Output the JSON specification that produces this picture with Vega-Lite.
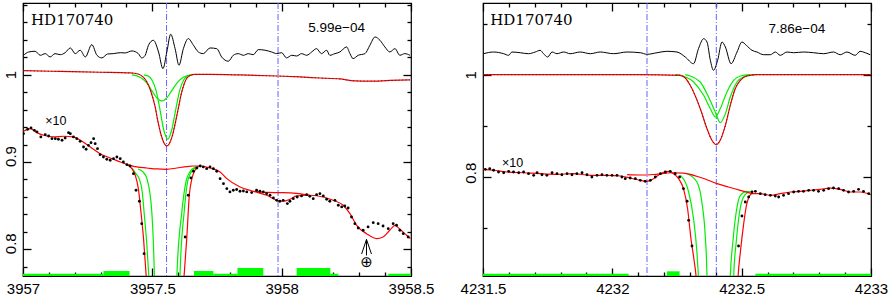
{
"$schema": "https://vega.github.io/schema/vega-lite/v6.json",
"background": "white",
"padding": {"left": 2, "top": 1, "right": 0, "bottom": 0},
"bounds": "flush",
"spacing": 72,
"config": {
  "view": {"stroke": "black", "strokeWidth": 1.2},
  "axis": {"labelFont": "Liberation Sans", "labelFontSize": 15, "labelColor": "black", "tickColor": "black", "tickWidth": 1.3, "domain": false, "grid": false, "labelPadding": 5, "labelOverlap": false, "labelBound": false, "labelFlush": false, "title": null}
},
"datasets": {
"L": [
{"s":"res","x":3957.002,"y":1.0222},{"s":"res","x":3957.022,"y":1.0260},{"s":"res","x":3957.047,"y":1.0268},{"s":"res","x":3957.067,"y":1.0222},{"s":"res","x":3957.086,"y":1.0241},{"s":"res","x":3957.105,"y":1.0203},{"s":"res","x":3957.124,"y":1.0241},{"s":"res","x":3957.144,"y":1.0229},{"s":"res","x":3957.163,"y":1.0252},{"s":"res","x":3957.183,"y":1.0306},{"s":"res","x":3957.202,"y":1.0241},{"s":"res","x":3957.221,"y":1.0280},{"s":"res","x":3957.241,"y":1.0203},{"s":"res","x":3957.266,"y":1.0344},{"s":"res","x":3957.286,"y":1.0222},{"s":"res","x":3957.305,"y":1.0192},{"s":"res","x":3957.327,"y":1.0237},{"s":"res","x":3957.350,"y":1.0241},{"s":"res","x":3957.376,"y":1.0252},{"s":"res","x":3957.395,"y":1.0249},{"s":"res","x":3957.421,"y":1.0272},{"s":"res","x":3957.446,"y":1.0241},{"s":"res","x":3957.459,"y":1.0192},{"s":"res","x":3957.472,"y":1.0220},{"s":"res","x":3957.485,"y":1.0337},{"s":"res","x":3957.504,"y":1.0394},{"s":"res","x":3957.524,"y":1.0260},{"s":"res","x":3957.541,"y":1.0069},{"s":"res","x":3957.556,"y":1.0260},{"s":"res","x":3957.571,"y":1.0463},{"s":"res","x":3957.588,"y":1.0298},{"s":"res","x":3957.603,"y":1.0108},{"s":"res","x":3957.620,"y":1.0298},{"s":"res","x":3957.639,"y":1.0413},{"s":"res","x":3957.659,"y":1.0337},{"s":"res","x":3957.678,"y":1.0260},{"s":"res","x":3957.697,"y":1.0241},{"s":"res","x":3957.723,"y":1.0306},{"s":"res","x":3957.749,"y":1.0298},{"s":"res","x":3957.768,"y":1.0203},{"s":"res","x":3957.794,"y":1.0154},{"s":"res","x":3957.813,"y":1.0222},{"s":"res","x":3957.832,"y":1.0241},{"s":"res","x":3957.852,"y":1.0222},{"s":"res","x":3957.871,"y":1.0241},{"s":"res","x":3957.890,"y":1.0229},{"s":"res","x":3957.910,"y":1.0287},{"s":"res","x":3957.936,"y":1.0280},{"s":"res","x":3957.961,"y":1.0260},{"s":"res","x":3957.981,"y":1.0241},{"s":"res","x":3958.000,"y":1.0252},{"s":"res","x":3958.019,"y":1.0192},{"s":"res","x":3958.039,"y":1.0222},{"s":"res","x":3958.058,"y":1.0214},{"s":"res","x":3958.077,"y":1.0241},{"s":"res","x":3958.097,"y":1.0222},{"s":"res","x":3958.116,"y":1.0260},{"s":"res","x":3958.135,"y":1.0298},{"s":"res","x":3958.154,"y":1.0241},{"s":"res","x":3958.174,"y":1.0280},{"s":"res","x":3958.186,"y":1.0222},{"s":"res","x":3958.206,"y":1.0241},{"s":"res","x":3958.225,"y":1.0260},{"s":"res","x":3958.251,"y":1.0318},{"s":"res","x":3958.264,"y":1.0241},{"s":"res","x":3958.276,"y":1.0184},{"s":"res","x":3958.296,"y":1.0222},{"s":"res","x":3958.322,"y":1.0241},{"s":"res","x":3958.341,"y":1.0337},{"s":"res","x":3958.361,"y":1.0432},{"s":"res","x":3958.380,"y":1.0394},{"s":"res","x":3958.399,"y":1.0318},{"s":"res","x":3958.418,"y":1.0260},{"s":"res","x":3958.438,"y":1.0298},{"s":"res","x":3958.457,"y":1.0222},{"s":"res","x":3958.476,"y":1.0241},{"s":"res","x":3958.496,"y":1.0222},
{"s":"m1","x":3957.001,"y":1.0046},{"s":"m1","x":3957.144,"y":1.0037},{"s":"m1","x":3957.298,"y":1.0028},{"s":"m1","x":3957.414,"y":1.0020},{"s":"m1","x":3957.445,"y":1.0008},{"s":"m1","x":3957.464,"y":0.9974},{"s":"m1","x":3957.479,"y":0.9917},{"s":"m1","x":3957.495,"y":0.9802},{"s":"m1","x":3957.511,"y":0.9630},{"s":"m1","x":3957.522,"y":0.9458},{"s":"m1","x":3957.534,"y":0.9309},{"s":"m1","x":3957.545,"y":0.9218},{"s":"m1","x":3957.556,"y":0.9184},{"s":"m1","x":3957.565,"y":0.9206},{"s":"m1","x":3957.576,"y":0.9287},{"s":"m1","x":3957.588,"y":0.9435},{"s":"m1","x":3957.600,"y":0.9607},{"s":"m1","x":3957.611,"y":0.9768},{"s":"m1","x":3957.623,"y":0.9894},{"s":"m1","x":3957.634,"y":0.9962},{"s":"m1","x":3957.646,"y":0.9991},{"s":"m1","x":3957.665,"y":1.0003},{"s":"m1","x":3957.723,"y":1.0003},{"s":"m1","x":3957.839,"y":0.9997},{"s":"m1","x":3957.981,"y":0.9985},{"s":"m1","x":3958.071,"y":0.9974},{"s":"m1","x":3958.148,"y":0.9962},{"s":"m1","x":3958.225,"y":0.9951},{"s":"m1","x":3958.283,"y":0.9928},{"s":"m1","x":3958.341,"y":0.9925},{"s":"m1","x":3958.418,"y":0.9934},{"s":"m1","x":3958.496,"y":0.9940},
{"s":"g1","x":3957.421,"y":0.9997},{"s":"g1","x":3957.440,"y":0.9986},{"s":"g1","x":3957.459,"y":0.9959},{"s":"g1","x":3957.479,"y":0.9903},{"s":"g1","x":3957.498,"y":0.9817},{"s":"g1","x":3957.517,"y":0.9735},{"s":"g1","x":3957.537,"y":0.9699},{"s":"g1","x":3957.556,"y":0.9735},{"s":"g1","x":3957.575,"y":0.9817},{"s":"g1","x":3957.595,"y":0.9903},{"s":"g1","x":3957.614,"y":0.9959},{"s":"g1","x":3957.633,"y":0.9986},{"s":"g1","x":3957.653,"y":0.9997},
{"s":"g2","x":3957.467,"y":0.9998},{"s":"g2","x":3957.483,"y":0.9986},{"s":"g2","x":3957.498,"y":0.9942},{"s":"g2","x":3957.514,"y":0.9823},{"s":"g2","x":3957.529,"y":0.9609},{"s":"g2","x":3957.544,"y":0.9369},{"s":"g2","x":3957.560,"y":0.9260},{"s":"g2","x":3957.575,"y":0.9369},{"s":"g2","x":3957.591,"y":0.9609},{"s":"g2","x":3957.606,"y":0.9823},{"s":"g2","x":3957.622,"y":0.9942},{"s":"g2","x":3957.637,"y":0.9986},{"s":"g2","x":3957.653,"y":0.9998},
{"s":"m10","x":3957.002,"y":0.9352},{"s":"m10","x":3957.028,"y":0.9382},{"s":"m10","x":3957.054,"y":0.9336},{"s":"m10","x":3957.080,"y":0.9306},{"s":"m10","x":3957.118,"y":0.9287},{"s":"m10","x":3957.157,"y":0.9295},{"s":"m10","x":3957.195,"y":0.9287},{"s":"m10","x":3957.228,"y":0.9237},{"s":"m10","x":3957.260,"y":0.9172},{"s":"m10","x":3957.298,"y":0.9095},{"s":"m10","x":3957.337,"y":0.9046},{"s":"m10","x":3957.376,"y":0.9000},{"s":"m10","x":3957.402,"y":0.8969},{"s":"m10","x":3957.421,"y":0.8923},{"s":"m10","x":3957.434,"y":0.8848},{"s":"m10","x":3957.446,"y":0.8694},{"s":"m10","x":3957.456,"y":0.8427},{"s":"m10","x":3957.466,"y":0.8122},{"s":"m10","x":3957.476,"y":0.7706},{"s":"m10","x":3957.480,"y":0.7511},{"s":"m10","x":3957.619,"y":0.7511},{"s":"m10","x":3957.623,"y":0.7706},{"s":"m10","x":3957.633,"y":0.8122},{"s":"m10","x":3957.643,"y":0.8619},{"s":"m10","x":3957.653,"y":0.8809},{"s":"m10","x":3957.665,"y":0.8905},{"s":"m10","x":3957.685,"y":0.8954},{"s":"m10","x":3957.723,"y":0.8931},{"s":"m10","x":3957.762,"y":0.8886},{"s":"m10","x":3957.788,"y":0.8809},{"s":"m10","x":3957.839,"y":0.8714},{"s":"m10","x":3957.890,"y":0.8665},{"s":"m10","x":3957.942,"y":0.8619},{"s":"m10","x":3957.981,"y":0.8561},{"s":"m10","x":3958.006,"y":0.8550},{"s":"m10","x":3958.032,"y":0.8573},{"s":"m10","x":3958.058,"y":0.8611},{"s":"m10","x":3958.109,"y":0.8619},{"s":"m10","x":3958.161,"y":0.8599},{"s":"m10","x":3958.199,"y":0.8561},{"s":"m10","x":3958.238,"y":0.8504},{"s":"m10","x":3958.264,"y":0.8408},{"s":"m10","x":3958.290,"y":0.8275},{"s":"m10","x":3958.328,"y":0.8179},{"s":"m10","x":3958.367,"y":0.8122},{"s":"m10","x":3958.392,"y":0.8141},{"s":"m10","x":3958.418,"y":0.8218},{"s":"m10","x":3958.438,"y":0.8275},{"s":"m10","x":3958.457,"y":0.8229},{"s":"m10","x":3958.483,"y":0.8161},{"s":"m10","x":3958.498,"y":0.8122},
{"s":"c1","x":3957.402,"y":0.8969},{"s":"c1","x":3957.440,"y":0.8943},{"s":"c1","x":3957.479,"y":0.8931},{"s":"c1","x":3957.517,"y":0.8920},{"s":"c1","x":3957.556,"y":0.8916},{"s":"c1","x":3957.595,"y":0.8931},{"s":"c1","x":3957.633,"y":0.8946},{"s":"c1","x":3957.659,"y":0.8954},{"s":"c1","x":3957.685,"y":0.8954},
{"s":"c2","x":3957.890,"y":0.8665},{"s":"c2","x":3957.942,"y":0.8651},{"s":"c2","x":3958.006,"y":0.8649},{"s":"c2","x":3958.058,"y":0.8640},{"s":"c2","x":3958.109,"y":0.8619},
{"s":"g3","x":3957.421,"y":0.8932},{"s":"g3","x":3957.437,"y":0.8863},{"s":"g3","x":3957.449,"y":0.8809},{"s":"g3","x":3957.461,"y":0.8657},{"s":"g3","x":3957.468,"y":0.8427},{"s":"g3","x":3957.478,"y":0.8084},{"s":"g3","x":3957.486,"y":0.7706},{"s":"g3","x":3957.490,"y":0.7511},{"s":"g3","x":3957.605,"y":0.7511},{"s":"g3","x":3957.607,"y":0.7706},{"s":"g3","x":3957.623,"y":0.8427},{"s":"g3","x":3957.639,"y":0.8809},{"s":"g3","x":3957.659,"y":0.8917},{"s":"g3","x":3957.677,"y":0.8943},
{"s":"g4","x":3957.445,"y":0.8920},{"s":"g4","x":3957.464,"y":0.8886},{"s":"g4","x":3957.479,"y":0.8809},{"s":"g4","x":3957.490,"y":0.8657},{"s":"g4","x":3957.498,"y":0.8427},{"s":"g4","x":3957.504,"y":0.8084},{"s":"g4","x":3957.508,"y":0.7706},{"s":"g4","x":3957.510,"y":0.7511},{"s":"g4","x":3957.593,"y":0.7511},{"s":"g4","x":3957.595,"y":0.7706},{"s":"g4","x":3957.614,"y":0.8427},{"s":"g4","x":3957.633,"y":0.8809},{"s":"g4","x":3957.653,"y":0.8917},{"s":"g4","x":3957.669,"y":0.8943}
],
"Ld": [
{"x":3957.002,"y":0.9324},{"x":3957.018,"y":0.9375},{"x":3957.031,"y":0.9390},{"x":3957.044,"y":0.9363},{"x":3957.054,"y":0.9344},{"x":3957.069,"y":0.9287},{"x":3957.086,"y":0.9313},{"x":3957.099,"y":0.9298},{"x":3957.112,"y":0.9267},{"x":3957.125,"y":0.9267},{"x":3957.137,"y":0.9260},{"x":3957.151,"y":0.9249},{"x":3957.163,"y":0.9275},{"x":3957.176,"y":0.9336},{"x":3957.183,"y":0.9324},{"x":3957.195,"y":0.9287},{"x":3957.208,"y":0.9267},{"x":3957.221,"y":0.9237},{"x":3957.234,"y":0.9172},{"x":3957.244,"y":0.9146},{"x":3957.253,"y":0.9191},{"x":3957.263,"y":0.9221},{"x":3957.273,"y":0.9267},{"x":3957.279,"y":0.9210},{"x":3957.288,"y":0.9152},{"x":3957.298,"y":0.9084},{"x":3957.311,"y":0.9057},{"x":3957.324,"y":0.9031},{"x":3957.337,"y":0.9020},{"x":3957.350,"y":0.9038},{"x":3957.363,"y":0.9057},{"x":3957.376,"y":0.9038},{"x":3957.388,"y":0.9000},{"x":3957.402,"y":0.8969},{"x":3957.414,"y":0.8954},{"x":3957.427,"y":0.8866},{"x":3957.437,"y":0.8676},{"x":3957.450,"y":0.8550},{"x":3957.459,"y":0.8293},{"x":3957.468,"y":0.7950},
{"x":3957.627,"y":0.8141},{"x":3957.639,"y":0.8619},{"x":3957.649,"y":0.8817},{"x":3957.659,"y":0.8894},{"x":3957.672,"y":0.8931},{"x":3957.685,"y":0.8954},{"x":3957.697,"y":0.8943},{"x":3957.710,"y":0.8923},{"x":3957.723,"y":0.8943},{"x":3957.736,"y":0.8923},{"x":3957.749,"y":0.8894},{"x":3957.762,"y":0.8809},{"x":3957.775,"y":0.8752},{"x":3957.788,"y":0.8694},{"x":3957.800,"y":0.8657},{"x":3957.813,"y":0.8676},{"x":3957.826,"y":0.8685},{"x":3957.839,"y":0.8665},{"x":3957.852,"y":0.8668},{"x":3957.865,"y":0.8657},{"x":3957.884,"y":0.8649},{"x":3957.903,"y":0.8676},{"x":3957.916,"y":0.8665},{"x":3957.929,"y":0.8657},{"x":3957.942,"y":0.8637},{"x":3957.955,"y":0.8619},{"x":3957.968,"y":0.8588},{"x":3957.981,"y":0.8561},{"x":3957.993,"y":0.8550},{"x":3958.006,"y":0.8561},{"x":3958.022,"y":0.8523},{"x":3958.032,"y":0.8550},{"x":3958.045,"y":0.8580},{"x":3958.060,"y":0.8599},{"x":3958.077,"y":0.8611},{"x":3958.097,"y":0.8626},{"x":3958.109,"y":0.8607},{"x":3958.122,"y":0.8580},{"x":3958.135,"y":0.8626},{"x":3958.148,"y":0.8637},{"x":3958.161,"y":0.8611},{"x":3958.174,"y":0.8573},{"x":3958.186,"y":0.8550},{"x":3958.206,"y":0.8561},{"x":3958.219,"y":0.8504},{"x":3958.232,"y":0.8485},{"x":3958.244,"y":0.8496},{"x":3958.257,"y":0.8473},{"x":3958.270,"y":0.8370},{"x":3958.283,"y":0.8293},{"x":3958.296,"y":0.8244},{"x":3958.315,"y":0.8218},{"x":3958.334,"y":0.8256},{"x":3958.354,"y":0.8305},{"x":3958.373,"y":0.8293},{"x":3958.392,"y":0.8267},{"x":3958.412,"y":0.8236},{"x":3958.431,"y":0.8293},{"x":3958.444,"y":0.8275},{"x":3958.457,"y":0.8218},{"x":3958.470,"y":0.8179},{"x":3958.489,"y":0.8141}
],
"Lb": [
{"x":3957.0,"x2":3957.311,"y":0.7720},{"x":3957.311,"x2":3957.412,"y":0.7751},{"x":3957.661,"x2":3957.736,"y":0.7751},{"x":3957.736,"x2":3957.829,"y":0.7720},{"x":3957.829,"x2":3957.929,"y":0.7786},{"x":3958.058,"x2":3958.188,"y":0.7786},{"x":3958.188,"x2":3958.219,"y":0.7720},{"x":3958.412,"x2":3958.5,"y":0.7720}
],
"Lv": [{"x":3957.555},{"x":3957.986}],
"R": [
{"s":"res","x":4231.502,"y":1.0412},{"s":"res","x":4231.541,"y":1.0445},{"s":"res","x":4231.580,"y":1.0412},{"s":"res","x":4231.599,"y":1.0380},{"s":"res","x":4231.612,"y":1.0445},{"s":"res","x":4231.644,"y":1.0431},{"s":"res","x":4231.676,"y":1.0412},{"s":"res","x":4231.702,"y":1.0445},{"s":"res","x":4231.721,"y":1.0478},{"s":"res","x":4231.734,"y":1.0412},{"s":"res","x":4231.750,"y":1.0347},{"s":"res","x":4231.767,"y":1.0445},{"s":"res","x":4231.786,"y":1.0412},{"s":"res","x":4231.812,"y":1.0445},{"s":"res","x":4231.837,"y":1.0412},{"s":"res","x":4231.876,"y":1.0445},{"s":"res","x":4231.915,"y":1.0412},{"s":"res","x":4231.953,"y":1.0445},{"s":"res","x":4232.005,"y":1.0412},{"s":"res","x":4232.057,"y":1.0445},{"s":"res","x":4232.108,"y":1.0431},{"s":"res","x":4232.134,"y":1.0400},{"s":"res","x":4232.173,"y":1.0431},{"s":"res","x":4232.211,"y":1.0459},{"s":"res","x":4232.250,"y":1.0445},{"s":"res","x":4232.282,"y":1.0347},{"s":"res","x":4232.314,"y":1.0216},{"s":"res","x":4232.333,"y":1.0510},{"s":"res","x":4232.353,"y":1.0706},{"s":"res","x":4232.366,"y":1.0641},{"s":"res","x":4232.379,"y":1.0282},{"s":"res","x":4232.391,"y":1.0086},{"s":"res","x":4232.407,"y":1.0282},{"s":"res","x":4232.424,"y":1.0641},{"s":"res","x":4232.437,"y":1.0543},{"s":"res","x":4232.459,"y":1.0216},{"s":"res","x":4232.482,"y":1.0445},{"s":"res","x":4232.501,"y":1.0641},{"s":"res","x":4232.518,"y":1.0576},{"s":"res","x":4232.540,"y":1.0478},{"s":"res","x":4232.559,"y":1.0445},{"s":"res","x":4232.585,"y":1.0392},{"s":"res","x":4232.611,"y":1.0392},{"s":"res","x":4232.630,"y":1.0445},{"s":"res","x":4232.649,"y":1.0380},{"s":"res","x":4232.675,"y":1.0445},{"s":"res","x":4232.701,"y":1.0431},{"s":"res","x":4232.739,"y":1.0445},{"s":"res","x":4232.778,"y":1.0431},{"s":"res","x":4232.817,"y":1.0412},{"s":"res","x":4232.855,"y":1.0445},{"s":"res","x":4232.881,"y":1.0392},{"s":"res","x":4232.907,"y":1.0445},{"s":"res","x":4232.939,"y":1.0380},{"s":"res","x":4232.958,"y":1.0459},{"s":"res","x":4232.978,"y":1.0431},{"s":"res","x":4232.997,"y":1.0392},
{"s":"m1","x":4231.501,"y":1.0},{"s":"m1","x":4231.8,"y":1.0},{"s":"m1","x":4232.1,"y":1.0},{"s":"m1","x":4232.263,"y":0.9988},{"s":"m1","x":4232.282,"y":0.9935},{"s":"m1","x":4232.301,"y":0.9792},{"s":"m1","x":4232.340,"y":0.9333},{"s":"m1","x":4232.366,"y":0.8941},{"s":"m1","x":4232.385,"y":0.8714},{"s":"m1","x":4232.402,"y":0.8627},{"s":"m1","x":4232.417,"y":0.8714},{"s":"m1","x":4232.437,"y":0.9008},{"s":"m1","x":4232.456,"y":0.9400},{"s":"m1","x":4232.475,"y":0.9726},{"s":"m1","x":4232.495,"y":0.9890},{"s":"m1","x":4232.520,"y":0.9975},{"s":"m1","x":4232.559,"y":1.0},{"s":"m1","x":4232.8,"y":1.0},{"s":"m1","x":4233.0,"y":1.0},
{"s":"g1","x":4232.243,"y":1.0},{"s":"g1","x":4232.263,"y":0.9988},{"s":"g1","x":4232.314,"y":0.9857},{"s":"g1","x":4232.353,"y":0.9596},{"s":"g1","x":4232.379,"y":0.9333},{"s":"g1","x":4232.398,"y":0.9171},{"s":"g1","x":4232.417,"y":0.9333},{"s":"g1","x":4232.443,"y":0.9661},{"s":"g1","x":4232.469,"y":0.9890},{"s":"g1","x":4232.495,"y":0.9975},{"s":"g1","x":4232.533,"y":1.0},
{"s":"g2","x":4232.282,"y":1.0},{"s":"g2","x":4232.301,"y":0.9975},{"s":"g2","x":4232.340,"y":0.9857},{"s":"g2","x":4232.372,"y":0.9563},{"s":"g2","x":4232.398,"y":0.9269},{"s":"g2","x":4232.417,"y":0.9059},{"s":"g2","x":4232.437,"y":0.9235},{"s":"g2","x":4232.456,"y":0.9563},{"s":"g2","x":4232.482,"y":0.9857},{"s":"g2","x":4232.507,"y":0.9955},{"s":"g2","x":4232.553,"y":1.0},
{"s":"m10","x":4231.500,"y":0.8145},{"s":"m10","x":4231.541,"y":0.8126},{"s":"m10","x":4231.593,"y":0.8092},{"s":"m10","x":4231.657,"y":0.8078},{"s":"m10","x":4231.721,"y":0.8059},{"s":"m10","x":4231.786,"y":0.8047},{"s":"m10","x":4231.850,"y":0.8059},{"s":"m10","x":4231.915,"y":0.8027},{"s":"m10","x":4231.979,"y":0.8027},{"s":"m10","x":4232.031,"y":0.8014},{"s":"m10","x":4232.069,"y":0.7975},{"s":"m10","x":4232.108,"y":0.7929},{"s":"m10","x":4232.134,"y":0.7910},{"s":"m10","x":4232.159,"y":0.7961},{"s":"m10","x":4232.186,"y":0.8059},{"s":"m10","x":4232.217,"y":0.8106},{"s":"m10","x":4232.237,"y":0.8059},{"s":"m10","x":4232.256,"y":0.7961},{"s":"m10","x":4232.275,"y":0.7765},{"s":"m10","x":4232.291,"y":0.7372},{"s":"m10","x":4232.304,"y":0.6784},{"s":"m10","x":4232.317,"y":0.6327},{"s":"m10","x":4232.324,"y":0.6033},{"s":"m10","x":4232.328,"y":0.5739},{"s":"m10","x":4232.483,"y":0.5739},{"s":"m10","x":4232.486,"y":0.6033},{"s":"m10","x":4232.495,"y":0.6523},{"s":"m10","x":4232.507,"y":0.7047},{"s":"m10","x":4232.520,"y":0.7471},{"s":"m10","x":4232.540,"y":0.7667},{"s":"m10","x":4232.572,"y":0.7667},{"s":"m10","x":4232.611,"y":0.7635},{"s":"m10","x":4232.649,"y":0.7667},{"s":"m10","x":4232.688,"y":0.7700},{"s":"m10","x":4232.727,"y":0.7714},{"s":"m10","x":4232.765,"y":0.7733},{"s":"m10","x":4232.804,"y":0.7753},{"s":"m10","x":4232.842,"y":0.7778},{"s":"m10","x":4232.881,"y":0.7753},{"s":"m10","x":4232.920,"y":0.7700},{"s":"m10","x":4232.958,"y":0.7700},{"s":"m10","x":4233.001,"y":0.7647},
{"s":"c1","x":4232.057,"y":0.8039},{"s":"c1","x":4232.108,"y":0.8033},{"s":"c1","x":4232.159,"y":0.8043},{"s":"c1","x":4232.211,"y":0.8072},{"s":"c1","x":4232.237,"y":0.8078},{"s":"c1","x":4232.275,"y":0.8072},{"s":"c1","x":4232.314,"y":0.8027},{"s":"c1","x":4232.359,"y":0.7955},{"s":"c1","x":4232.405,"y":0.7863},{"s":"c1","x":4232.449,"y":0.7798},{"s":"c1","x":4232.495,"y":0.7733},{"s":"c1","x":4232.540,"y":0.7667},
{"s":"g3","x":4232.263,"y":0.8027},{"s":"g3","x":4232.295,"y":0.7700},{"s":"g3","x":4232.314,"y":0.7176},{"s":"g3","x":4232.327,"y":0.6523},{"s":"g3","x":4232.333,"y":0.6033},{"s":"g3","x":4232.336,"y":0.5739},{"s":"g3","x":4232.454,"y":0.5739},{"s":"g3","x":4232.456,"y":0.6033},{"s":"g3","x":4232.466,"y":0.6719},{"s":"g3","x":4232.479,"y":0.7308},{"s":"g3","x":4232.495,"y":0.7635},{"s":"g3","x":4232.520,"y":0.7714},{"s":"g3","x":4232.540,"y":0.7700},
{"s":"g4","x":4232.289,"y":0.8059},{"s":"g4","x":4232.327,"y":0.7896},{"s":"g4","x":4232.346,"y":0.7504},{"s":"g4","x":4232.359,"y":0.6851},{"s":"g4","x":4232.366,"y":0.6033},{"s":"g4","x":4232.367,"y":0.5739},{"s":"g4","x":4232.468,"y":0.5739},{"s":"g4","x":4232.469,"y":0.6033},{"s":"g4","x":4232.479,"y":0.6719},{"s":"g4","x":4232.492,"y":0.7308},{"s":"g4","x":4232.507,"y":0.7602},{"s":"g4","x":4232.527,"y":0.7700}
],
"Rd": [
{"x":4231.509,"y":0.8145},{"x":4231.526,"y":0.8157},{"x":4231.541,"y":0.8126},{"x":4231.560,"y":0.8092},{"x":4231.580,"y":0.8078},{"x":4231.599,"y":0.8106},{"x":4231.618,"y":0.8092},{"x":4231.638,"y":0.8078},{"x":4231.657,"y":0.8092},{"x":4231.676,"y":0.8059},{"x":4231.696,"y":0.8027},{"x":4231.709,"y":0.8078},{"x":4231.728,"y":0.8039},{"x":4231.747,"y":0.8027},{"x":4231.767,"y":0.8078},{"x":4231.786,"y":0.8059},{"x":4231.805,"y":0.8039},{"x":4231.825,"y":0.8059},{"x":4231.844,"y":0.8039},{"x":4231.863,"y":0.8059},{"x":4231.883,"y":0.8078},{"x":4231.902,"y":0.8039},{"x":4231.921,"y":0.7994},{"x":4231.941,"y":0.8027},{"x":4231.960,"y":0.8039},{"x":4231.979,"y":0.8027},{"x":4231.999,"y":0.8027},{"x":4232.018,"y":0.8027},{"x":4232.037,"y":0.7994},{"x":4232.050,"y":0.7961},{"x":4232.069,"y":0.7975},{"x":4232.089,"y":0.7961},{"x":4232.108,"y":0.7929},{"x":4232.127,"y":0.7910},{"x":4232.147,"y":0.7929},{"x":4232.166,"y":0.7994},{"x":4232.186,"y":0.8059},{"x":4232.205,"y":0.8092},{"x":4232.224,"y":0.8106},{"x":4232.243,"y":0.8059},{"x":4232.260,"y":0.7994},{"x":4232.275,"y":0.7765},{"x":4232.289,"y":0.7518},{"x":4232.295,"y":0.7145},{"x":4232.308,"y":0.6641},
{"x":4232.488,"y":0.6641},{"x":4232.501,"y":0.7229},{"x":4232.514,"y":0.7504},{"x":4232.527,"y":0.7602},{"x":4232.540,"y":0.7700},{"x":4232.553,"y":0.7714},{"x":4232.572,"y":0.7667},{"x":4232.591,"y":0.7647},{"x":4232.611,"y":0.7635},{"x":4232.630,"y":0.7622},{"x":4232.643,"y":0.7602},{"x":4232.662,"y":0.7635},{"x":4232.681,"y":0.7667},{"x":4232.701,"y":0.7700},{"x":4232.720,"y":0.7714},{"x":4232.739,"y":0.7714},{"x":4232.759,"y":0.7733},{"x":4232.778,"y":0.7733},{"x":4232.797,"y":0.7714},{"x":4232.817,"y":0.7733},{"x":4232.836,"y":0.7765},{"x":4232.855,"y":0.7778},{"x":4232.875,"y":0.7765},{"x":4232.894,"y":0.7733},{"x":4232.913,"y":0.7700},{"x":4232.933,"y":0.7714},{"x":4232.952,"y":0.7753},{"x":4232.971,"y":0.7714},{"x":4232.991,"y":0.7667}
],
"Rb": [
{"x":4231.5,"x2":4232.063,"y":0.6098},{"x":4232.211,"x2":4232.260,"y":0.6145},{"x":4232.553,"x2":4233.0,"y":0.6098}
],
"Rv": [{"x":4232.134},{"x":4232.402}]
},
"hconcat": [
{
 "width": 388, "height": 273,
 "encoding": {"x": {"field": "x", "type": "quantitative", "scale": {"domain": [3957, 3958.5], "nice": false, "zero": false}, "axis": null}},
 "resolve": {"axis": {"x": "independent", "y": "independent"}},
 "layer": [
  {"data": {"name": "Lb"}, "mark": {"type": "rect", "color": "#00ff00", "clip": true},
   "encoding": {
    "x": {"field": "x", "type": "quantitative", "scale": {"domain": [3957, 3958.5], "nice": false, "zero": false},
      "axis": {"orient": "bottom", "ticks": false, "values": [3957, 3957.5, 3958, 3958.5], "labelExpr": "format(datum.value,'~f')"}},
    "x2": {"field": "x2"},
    "y": {"field": "y", "type": "quantitative", "scale": {"domain": [0.7694, 1.0821], "nice": false, "zero": false},
      "axis": {"orient": "left", "ticks": false, "values": [0.8, 0.9], "labelAngle": -90, "labelAlign": "center", "labelOffset": -6, "labelExpr": "format(datum.value,'~g')"}},
    "y2": {"datum": 0.7}
   }},
  {"data": {"name": "Lv"}, "mark": {"type": "rule", "color": "#6464ff", "strokeDash": [6, 2, 1, 2], "strokeWidth": 1},
   "encoding": {"x": {"field": "x", "type": "quantitative", "scale": {"domain": [3957, 3958.5], "nice": false, "zero": false},
      "axis": {"orient": "bottom", "labels": false, "tickSize": -8, "values": [3957, 3957.5, 3958, 3958.5]}}}},
  {"data": {"name": "L"}, "transform": [{"filter": "substring(datum.s,0,1)=='g'"}],
   "mark": {"type": "line", "color": "#00ee00", "clip": true, "interpolate": "monotone", "strokeWidth": 1.2},
   "encoding": {
    "x": {"field": "x", "type": "quantitative", "scale": {"domain": [3957, 3958.5], "nice": false, "zero": false},
      "axis": {"orient": "bottom", "labels": false, "tickSize": -4, "values": [3957.1,3957.2,3957.3,3957.4,3957.6,3957.7,3957.8,3957.9,3958.1,3958.2,3958.3,3958.4]}},
    "y": {"field": "y", "type": "quantitative", "scale": {"domain": [0.7694, 1.0821], "nice": false, "zero": false},
      "axis": {"orient": "left", "labels": false, "tickSize": -8, "values": [0.8, 0.9, 1]}},
    "detail": {"field": "s"}}},
  {"data": {"name": "L"}, "transform": [{"filter": "substring(datum.s,0,1)=='m' || substring(datum.s,0,1)=='c'"}],
   "mark": {"type": "line", "color": "#ff0000", "clip": true, "interpolate": "monotone", "strokeWidth": 1.2},
   "encoding": {
    "x": {"field": "x", "type": "quantitative", "scale": {"domain": [3957, 3958.5], "nice": false, "zero": false},
      "axis": {"orient": "top", "labels": false, "tickSize": -8, "values": [3957, 3957.5, 3958, 3958.5]}},
    "y": {"field": "y", "type": "quantitative", "scale": {"domain": [0.7694, 1.0821], "nice": false, "zero": false},
      "axis": {"orient": "left", "labels": false, "tickSize": -4, "values": [0.78,0.82,0.84,0.86,0.88,0.92,0.94,0.96,0.98,1.02,1.04,1.06,1.08]}},
    "detail": {"field": "s"}}},
  {"data": {"name": "L"}, "transform": [{"filter": "datum.s=='m1'"}],
   "mark": {"type": "line", "color": "#202020", "clip": true, "interpolate": "monotone", "strokeWidth": 0.9, "strokeDash": [1, 2.5]},
   "encoding": {"y": {"field": "y", "type": "quantitative", "scale": {"domain": [0.7694, 1.0821], "nice": false, "zero": false}, "axis": null}}},
  {"data": {"name": "L"}, "transform": [{"filter": "datum.s=='res'"}],
   "mark": {"type": "line", "color": "black", "clip": true, "interpolate": "monotone", "strokeWidth": 1},
   "encoding": {
    "x": {"field": "x", "type": "quantitative", "scale": {"domain": [3957, 3958.5], "nice": false, "zero": false},
      "axis": {"orient": "top", "labels": false, "tickSize": -4, "values": [3957.1,3957.2,3957.3,3957.4,3957.6,3957.7,3957.8,3957.9,3958.1,3958.2,3958.3,3958.4]}},
    "y": {"field": "y", "type": "quantitative", "scale": {"domain": [0.7694, 1.0821], "nice": false, "zero": false},
      "axis": {"orient": "right", "labels": false, "tickSize": -8, "values": [0.8, 0.9, 1]}}}},
  {"data": {"name": "Ld"}, "mark": {"type": "circle", "color": "black", "size": 8, "opacity": 1, "clip": true},
   "encoding": {"y": {"field": "y", "type": "quantitative", "scale": {"domain": [0.7694, 1.0821], "nice": false, "zero": false},
      "axis": {"orient": "right", "labels": false, "tickSize": -4, "values": [0.78,0.82,0.84,0.86,0.88,0.92,0.94,0.96,0.98,1.02,1.04,1.06,1.08]}}}},
  {"data": {"values": [{"x": 3958.309, "y": 0.7946}, {"x": 3958.328, "y": 0.8113}, {"x": 3958.347, "y": 0.7946}]},
   "mark": {"type": "line", "color": "black", "strokeWidth": 1},
   "encoding": {"y": {"field": "y", "type": "quantitative", "scale": {"domain": [0.7694, 1.0821], "nice": false, "zero": false},
      "axis": {"orient": "left", "ticks": false, "values": [1], "labelAngle": -90, "labelAlign": "center", "labelExpr": "format(datum.value,'~g')"}}}},
  {"data": {"values": [{"x": 3958.328, "y": 0.8113, "y2": 0.7929}]},
   "mark": {"type": "rule", "color": "black", "strokeWidth": 1},
   "encoding": {"y": {"field": "y", "type": "quantitative", "scale": {"domain": [0.7694, 1.0821], "nice": false, "zero": false}, "axis": null}, "y2": {"field": "y2"}}},
  {"data": {"values": [{"x": 3958.328, "y": 0.7855, "t": "⊕"}]},
   "mark": {"type": "text", "font": "DejaVu Sans", "fontSize": 15, "align": "center", "baseline": "middle", "color": "black"},
   "encoding": {"y": {"field": "y", "type": "quantitative", "scale": {"domain": [0.7694, 1.0821], "nice": false, "zero": false}, "axis": null}, "text": {"field": "t"}}},
  {"data": {"values": [{"x": 3957.031, "y": 1.0566, "t": "HD170740"}]},
   "mark": {"type": "text", "font": "DejaVu Serif", "fontSize": 15, "align": "left", "baseline": "alphabetic", "color": "black"},
   "encoding": {"y": {"field": "y", "type": "quantitative", "scale": {"domain": [0.7694, 1.0821], "nice": false, "zero": false}, "axis": null}, "text": {"field": "t"}}},
  {"data": {"values": [{"x": 3958.103, "y": 1.0489, "t": "5.99e−04"}]},
   "mark": {"type": "text", "font": "Liberation Sans", "fontSize": 13.5, "align": "left", "baseline": "alphabetic", "color": "black"},
   "encoding": {"y": {"field": "y", "type": "quantitative", "scale": {"domain": [0.7694, 1.0821], "nice": false, "zero": false}, "axis": null}, "text": {"field": "t"}}},
  {"data": {"values": [{"x": 3957.086, "y": 0.9424, "t": "×10"}]},
   "mark": {"type": "text", "font": "Liberation Sans", "fontSize": 12.5, "align": "left", "baseline": "alphabetic", "color": "black"},
   "encoding": {"y": {"field": "y", "type": "quantitative", "scale": {"domain": [0.7694, 1.0821], "nice": false, "zero": false}, "axis": null}, "text": {"field": "t"}}}
 ]
},
{
 "width": 388, "height": 273,
 "encoding": {"x": {"field": "x", "type": "quantitative", "scale": {"domain": [4231.5, 4233], "nice": false, "zero": false}, "axis": null}},
 "resolve": {"axis": {"x": "independent", "y": "independent"}},
 "layer": [
  {"data": {"name": "Rb"}, "mark": {"type": "rect", "color": "#00ff00", "clip": true},
   "encoding": {
    "x": {"field": "x", "type": "quantitative", "scale": {"domain": [4231.5, 4233], "nice": false, "zero": false},
      "axis": {"orient": "bottom", "ticks": false, "values": [4231.5, 4232, 4232.5, 4233], "labelExpr": "format(datum.value,'~f')"}},
    "x2": {"field": "x2"},
    "y": {"field": "y", "type": "quantitative", "scale": {"domain": [0.6053, 1.1406], "nice": false, "zero": false},
      "axis": {"orient": "left", "ticks": false, "values": [0.8], "labelAngle": -90, "labelAlign": "center", "labelOffset": -4, "labelExpr": "format(datum.value,'~g')"}},
    "y2": {"datum": 0.5}
   }},
  {"data": {"name": "Rv"}, "mark": {"type": "rule", "color": "#6464ff", "strokeDash": [6, 2, 1, 2], "strokeWidth": 1},
   "encoding": {"x": {"field": "x", "type": "quantitative", "scale": {"domain": [4231.5, 4233], "nice": false, "zero": false},
      "axis": {"orient": "bottom", "labels": false, "tickSize": -8, "values": [4231.5, 4232, 4232.5, 4233]}}}},
  {"data": {"name": "R"}, "transform": [{"filter": "substring(datum.s,0,1)=='g'"}],
   "mark": {"type": "line", "color": "#00ee00", "clip": true, "interpolate": "monotone", "strokeWidth": 1.2},
   "encoding": {
    "x": {"field": "x", "type": "quantitative", "scale": {"domain": [4231.5, 4233], "nice": false, "zero": false},
      "axis": {"orient": "bottom", "labels": false, "tickSize": -4, "values": [4231.6,4231.7,4231.8,4231.9,4232.1,4232.2,4232.3,4232.4,4232.6,4232.7,4232.8,4232.9]}},
    "y": {"field": "y", "type": "quantitative", "scale": {"domain": [0.6053, 1.1406], "nice": false, "zero": false},
      "axis": {"orient": "left", "labels": false, "tickSize": -8, "values": [0.8, 1]}},
    "detail": {"field": "s"}}},
  {"data": {"name": "R"}, "transform": [{"filter": "substring(datum.s,0,1)=='m' || substring(datum.s,0,1)=='c'"}],
   "mark": {"type": "line", "color": "#ff0000", "clip": true, "interpolate": "monotone", "strokeWidth": 1.2},
   "encoding": {
    "x": {"field": "x", "type": "quantitative", "scale": {"domain": [4231.5, 4233], "nice": false, "zero": false},
      "axis": {"orient": "top", "labels": false, "tickSize": -8, "values": [4231.5, 4232, 4232.5, 4233]}},
    "y": {"field": "y", "type": "quantitative", "scale": {"domain": [0.6053, 1.1406], "nice": false, "zero": false},
      "axis": {"orient": "left", "labels": false, "tickSize": -4, "values": [0.7, 0.9, 1.1]}},
    "detail": {"field": "s"}}},
  {"data": {"name": "R"}, "transform": [{"filter": "datum.s=='m1'"}],
   "mark": {"type": "line", "color": "#202020", "clip": true, "interpolate": "monotone", "strokeWidth": 0.9, "strokeDash": [1, 2.5]},
   "encoding": {"y": {"field": "y", "type": "quantitative", "scale": {"domain": [0.6053, 1.1406], "nice": false, "zero": false}, "axis": null}}},
  {"data": {"name": "R"}, "transform": [{"filter": "datum.s=='res'"}],
   "mark": {"type": "line", "color": "black", "clip": true, "interpolate": "monotone", "strokeWidth": 1},
   "encoding": {
    "x": {"field": "x", "type": "quantitative", "scale": {"domain": [4231.5, 4233], "nice": false, "zero": false},
      "axis": {"orient": "top", "labels": false, "tickSize": -4, "values": [4231.6,4231.7,4231.8,4231.9,4232.1,4232.2,4232.3,4232.4,4232.6,4232.7,4232.8,4232.9]}},
    "y": {"field": "y", "type": "quantitative", "scale": {"domain": [0.6053, 1.1406], "nice": false, "zero": false},
      "axis": {"orient": "right", "labels": false, "tickSize": -8, "values": [0.8, 1]}}}},
  {"data": {"name": "Rd"}, "mark": {"type": "circle", "color": "black", "size": 8, "opacity": 1, "clip": true},
   "encoding": {"y": {"field": "y", "type": "quantitative", "scale": {"domain": [0.6053, 1.1406], "nice": false, "zero": false},
      "axis": {"orient": "right", "labels": false, "tickSize": -4, "values": [0.7, 0.9, 1.1]}}}},
  {"data": {"values": [{"x": 4231.528, "y": 1.0969, "t": "HD170740"}]},
   "mark": {"type": "text", "font": "DejaVu Serif", "fontSize": 15, "align": "left", "baseline": "alphabetic", "color": "black"},
   "encoding": {"y": {"field": "y", "type": "quantitative", "scale": {"domain": [0.6053, 1.1406], "nice": false, "zero": false},
      "axis": {"orient": "left", "ticks": false, "values": [1], "labelAngle": -90, "labelAlign": "center", "labelExpr": "format(datum.value,'~g')"}}, "text": {"field": "t"}}},
  {"data": {"values": [{"x": 4232.604, "y": 1.0824, "t": "7.86e−04"}]},
   "mark": {"type": "text", "font": "Liberation Sans", "fontSize": 13.5, "align": "left", "baseline": "alphabetic", "color": "black"},
   "encoding": {"y": {"field": "y", "type": "quantitative", "scale": {"domain": [0.6053, 1.1406], "nice": false, "zero": false}, "axis": null}, "text": {"field": "t"}}},
  {"data": {"values": [{"x": 4231.573, "y": 0.8190, "t": "×10"}]},
   "mark": {"type": "text", "font": "Liberation Sans", "fontSize": 12.5, "align": "left", "baseline": "alphabetic", "color": "black"},
   "encoding": {"y": {"field": "y", "type": "quantitative", "scale": {"domain": [0.6053, 1.1406], "nice": false, "zero": false}, "axis": null}, "text": {"field": "t"}}}
 ]
}
]
}
